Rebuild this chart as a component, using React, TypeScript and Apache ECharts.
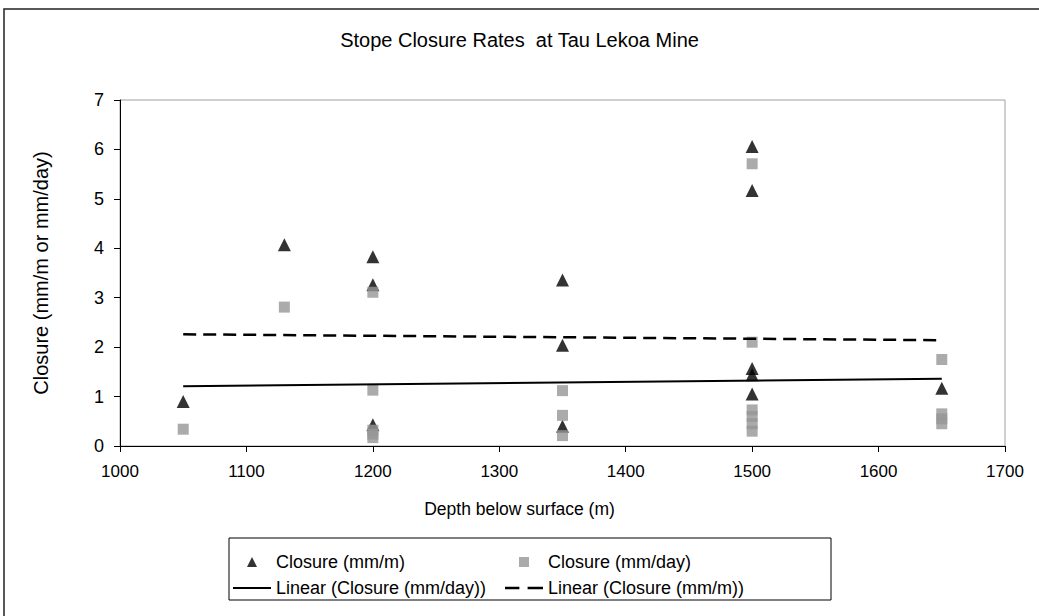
import React, { useEffect, useRef } from "react";
import * as echarts from "echarts";

// Depth (m) vs closure readings
const closureMmPerM: [number, number][] = [
  [1050, 0.9],
  [1130, 4.07],
  [1200, 3.83], [1200, 3.26], [1200, 0.43],
  [1350, 3.36], [1350, 2.04], [1350, 0.4],
  [1500, 6.06], [1500, 5.17], [1500, 1.57], [1500, 1.44], [1500, 1.05],
  [1650, 1.17],
];

const closureMmPerDay: [number, number][] = [
  [1050, 0.34],
  [1130, 2.81],
  [1200, 3.11], [1200, 1.13], [1200, 0.32], [1200, 0.24], [1200, 0.17],
  [1350, 1.12], [1350, 0.62], [1350, 0.21],
  [1500, 5.71], [1500, 2.1], [1500, 0.73], [1500, 0.6], [1500, 0.45], [1500, 0.3],
  [1650, 1.75], [1650, 0.65], [1650, 0.55], [1650, 0.45],
];

// Linear trend end points
const trendMmPerDay: [number, number][] = [[1050, 1.21], [1650, 1.36]];
const trendMmPerM: [number, number][] = [[1050, 2.26], [1650, 2.14]];

const FONT = "Liberation Sans, Arial, sans-serif";

// Legend glyphs
const ICON_TRIANGLE = "path://M5,0 L10,10 L0,10 Z";
const ICON_SQUARE = "path://M0,0 H9 V9 H0 Z";
const ICON_SOLID = "path://M0,0 H38 V2 H0 Z";
const ICON_DASHED = "path://M0,0 H14 V2.6 H0 Z M22,0 H37 V2.6 H22 Z";

export default function App() {
  const ref = useRef<HTMLDivElement>(null);

  useEffect(() => {
    if (!ref.current) return;
    const chart = echarts.init(ref.current, undefined, { renderer: "svg" });
    const legendText = { fontFamily: FONT, fontSize: 18, color: "#000" };
    chart.setOption({
      animation: false,
      backgroundColor: "#ffffff",
      title: [
        {
          text: "Stope Closure Rates  at Tau Lekoa Mine",
          left: "center",
          top: 25,
          textStyle: { fontFamily: FONT, fontSize: 20, fontWeight: "normal", color: "#000" },
        },
        {
          text: "Depth below surface (m)",
          left: "center",
          top: 495,
          textStyle: { fontFamily: FONT, fontSize: 17.5, fontWeight: "normal", color: "#000" },
        },
      ],
      grid: {
        left: 120,
        top: 100,
        right: 34,
        bottom: 170,
        show: true,
        borderColor: "#a0a0a0",
        borderWidth: 1,
      },
      xAxis: {
        type: "value",
        min: 1000,
        max: 1700,
        interval: 100,
        axisLine: { show: true, onZero: false, lineStyle: { color: "#000", width: 1 } },
        axisTick: { show: true, inside: false, length: 6, lineStyle: { color: "#000" } },
        axisLabel: {
          fontFamily: FONT,
          fontSize: 17,
          color: "#000",
          margin: 17,
          formatter: (v: number) => String(v),
        },
        splitLine: { show: false },
      },
      yAxis: {
        type: "value",
        min: 0,
        max: 7,
        interval: 1,
        name: "Closure (mm/m or mm/day)",
        nameLocation: "middle",
        nameGap: 69,
        nameTextStyle: { fontFamily: FONT, fontSize: 20, color: "#000" },
        axisLine: { show: true, lineStyle: { color: "#000", width: 1 } },
        axisTick: { show: true, inside: false, length: 6, lineStyle: { color: "#000" } },
        axisLabel: { fontFamily: FONT, fontSize: 18, color: "#000", margin: 16 },
        splitLine: { show: false },
      },
      legend: [
        {
          data: [
            { name: "Closure (mm/m)", icon: ICON_TRIANGLE },
            { name: "Linear (Closure (mm/day))", icon: ICON_SOLID },
          ],
          orient: "vertical",
          left: 228,
          top: 548,
          itemGap: 8,
          itemWidth: 38,
          itemHeight: 10,
          itemStyle: { borderWidth: 0 },
          textStyle: legendText,
        },
        {
          data: [
            { name: "Closure (mm/day)", icon: ICON_SQUARE },
            { name: "Linear (Closure (mm/m))", icon: ICON_DASHED },
          ],
          orient: "vertical",
          left: 500,
          top: 548,
          itemGap: 8,
          itemWidth: 38,
          itemHeight: 10,
          itemStyle: { borderWidth: 0 },
          textStyle: legendText,
        },
      ],
      graphic: [
        {
          type: "rect",
          shape: { x: 4, y: 9, width: 1100, height: 700 },
          style: { fill: "none", stroke: "#222", lineWidth: 1.5 },
          silent: true,
        },
        {
          type: "rect",
          shape: { x: 229, y: 538, width: 602, height: 62 },
          style: { fill: "none", stroke: "#000", lineWidth: 1 },
          silent: true,
        },
      ],
      series: [
        {
          name: "Closure (mm/m)",
          type: "scatter",
          symbol: "triangle",
          symbolSize: 13,
          itemStyle: { color: "#000" },
          data: closureMmPerM,
        },
        {
          name: "Closure (mm/day)",
          type: "scatter",
          symbol: "rect",
          symbolSize: 11,
          itemStyle: { color: "#969696" },
          data: closureMmPerDay,
        },
        {
          name: "Linear (Closure (mm/day))",
          type: "line",
          symbol: "none",
          lineStyle: { color: "#000", width: 2 },
          itemStyle: { color: "#000" },
          data: trendMmPerDay,
        },
        {
          name: "Linear (Closure (mm/m))",
          type: "line",
          symbol: "none",
          lineStyle: { color: "#000", width: 2.5, type: [13, 7] },
          itemStyle: { color: "#000" },
          data: trendMmPerM,
        },
      ],
    });
    return () => chart.dispose();
  }, []);

  return (
    <div
      ref={ref}
      style={{ position: "absolute", left: 0, top: 0, width: 1039, height: 616 }}
    />
  );
}
